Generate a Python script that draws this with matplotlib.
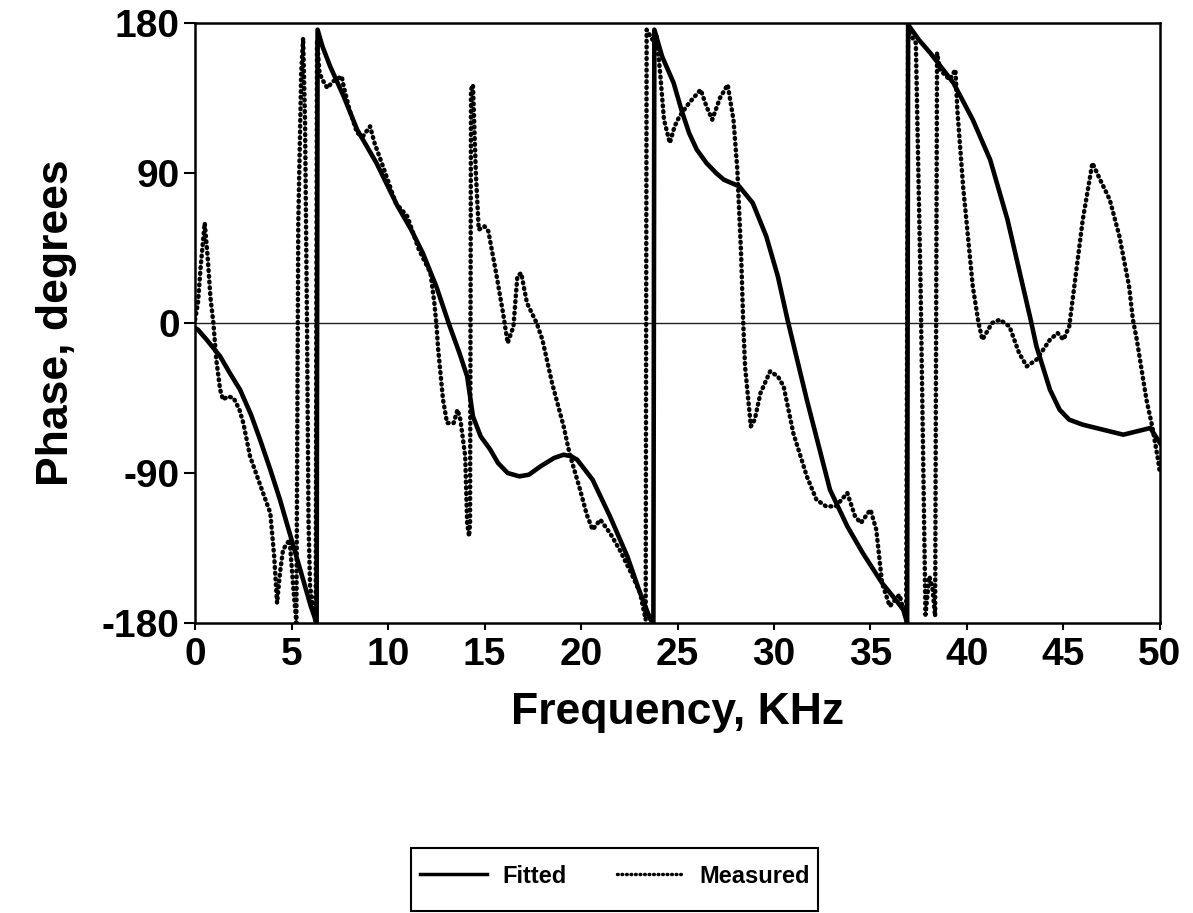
import numpy as np
import matplotlib
matplotlib.use("Agg")
import matplotlib.pyplot as plt
from matplotlib.patches import Rectangle

plt.rcParams['font.family'] = ['Liberation Sans', 'DejaVu Sans']
plt.rcParams['font.weight'] = 'bold'
plt.rcParams['axes.unicode_minus'] = False

# fitted model phase (degrees) vs frequency (kHz)
fit_freq = [0, 0.15, 0.6, 1.3, 1.8, 2.33, 2.9, 3.37, 3.9, 4.4, 4.9, 5.5, 6.0, 6.3,
            6.35, 6.6, 7.0, 7.7, 8.4, 9.4, 10.5, 11.2, 11.8, 12.5, 13.2, 13.7, 14.1,
            14.4, 14.8, 15.3, 15.7, 16.2, 16.8, 17.3, 17.9, 18.6, 19.1, 19.5, 19.8,
            20.2, 20.6, 21.5, 22.4, 23.0, 23.6, 23.75,
            23.8, 24.2, 24.8, 25.2, 25.6, 26.0, 26.5, 27.0, 27.4, 28.2, 28.9, 29.6,
            30.2, 30.7, 31.7, 32.9, 33.8, 34.6, 35.6, 36.3, 36.7, 36.9,
            36.95, 37.5, 38.1, 39.3, 40.3, 41.2, 42.1, 43.3, 43.6, 44.3, 44.8, 45.3,
            46.0, 46.7, 48.1, 49.5, 50]
fit_phase = [-3, -4, -10, -20, -30, -40, -55, -70, -88, -106, -126, -150, -170, -180,
             176, 166, 154, 136, 116, 96, 70, 56, 42, 22, -2, -18, -32,
             -56, -68, -76, -84, -90, -92, -91, -86, -81, -79, -80, -82,
             -88, -94, -116, -140, -160, -178, -180,
             176, 160, 144, 128, 114, 104, 96, 90, 86, 82, 72, 52,
             28, 2, -46, -100, -122, -138, -156, -166, -172, -180,
             179, 170, 162, 144, 122, 98, 62, 2, -14, -40, -52, -58,
             -61, -63, -67, -63, -72]

# measured phase
meas_freq = [0, 0.15, 0.3, 0.5, 0.65, 0.8, 0.95, 1.1, 1.3, 1.45, 1.7, 2.0, 2.3, 2.5,
             2.85, 3.4, 3.9, 4.1, 4.25, 4.4, 4.56, 4.9, 5.1, 5.25,
             5.35, 5.5, 5.6, 5.7, 5.8, 5.88, 5.96, 6.1, 6.25,
             6.32, 6.45, 6.6, 6.85, 7.15, 7.6, 7.7, 8.0, 8.4, 8.7, 9.07, 9.3, 9.8,
             10.4, 11.0, 11.6, 12.2, 12.4, 12.5, 12.6, 12.85, 13.06, 13.4, 13.6, 13.75,
             14.0, 14.1, 14.2, 14.25,
             14.3, 14.4, 14.55, 14.7, 15.0, 15.2, 15.6, 15.96, 16.2, 16.5, 16.7, 16.9,
             17.2, 17.7, 18.0, 18.5, 19.1, 19.4, 19.95, 20.3, 20.6, 21.0, 21.5, 22.0,
             22.6, 23.06, 23.35,
             23.4, 23.7, 23.9, 24.1, 24.3, 24.6, 24.85, 25.1, 25.6, 26.2, 26.5, 26.8,
             27.2, 27.6, 27.9, 28.1, 28.3, 28.4, 28.5, 28.8, 29.0, 29.3, 29.8, 30.2,
             30.5, 31.0, 31.7, 32.2, 32.7, 33.2, 33.8, 34.2, 34.5, 35.0, 35.3, 35.6,
             36.0, 36.5, 36.85,
             36.95, 37.35, 37.6, 37.85, 38.05, 38.2, 38.35,
             38.45, 38.6, 39.1, 39.4, 39.5, 39.8, 40.3, 40.6, 40.8, 41.3, 41.7, 42.2,
             42.7, 43.1, 43.6, 44.3, 44.7, 45.0, 45.3, 46.0, 46.5, 46.9, 47.4, 47.9,
             48.4, 48.6, 48.8, 49.3, 49.6, 49.9, 50]
meas_phase = [2, 12, 35, 60, 40, 15, 0, -22, -40, -46, -44, -45, -52, -60,
              -80, -98, -114, -140, -168, -150, -136, -130, -160, -180,
              60, 150, 171, 120, 0, -120, -158, -170, -180,
              170, 150, 146, 141, 145, 148, 142, 128, 114, 112, 118, 108, 92,
              72, 64, 44, 30, 12, 0, -16, -46, -60, -60, -52, -58,
              -80, -120, -128, -120,
              140, 143, 90, 56, 58, 55, 30, 6, -12, -2, 28, 30,
              12, 0, -10, -36, -62, -78, -100, -115, -124, -118, -126, -136,
              -150, -162, -178,
              176, 170, 174, 150, 122, 108, 118, 124, 132, 140, 130, 122,
              135, 143, 122, 92, 40, 2, -26, -62, -58, -42, -29, -32,
              -38, -66, -92, -106, -110, -110, -102, -116, -120, -112, -124, -156,
              -170, -163, -178,
              175, 168, 20, -175, -152, -158, -176,
              162, 152, 146, 152, 128, 82, 22, 0, -10, 0, 2, -2,
              -18, -26, -22, -10, -6, -10, -2, 62, 96, 86, 74, 52,
              22, 2, -10, -46, -62, -82, -90]

x_ticks = [0, 5, 10, 15, 20, 25, 30, 35, 40, 45, 50]
y_ticks = [-180, -90, 0, 90, 180]

fig = plt.figure(figsize=(11.93, 9.13), dpi=100)
ax = fig.add_axes([0.1635, 0.3176, 0.8088, 0.6572])

ax.axhline(0, color='#222222', lw=1.0, zorder=1)
ax.plot(fit_freq, fit_phase, color='black', lw=3.3, solid_joinstyle='round',
        label='Fitted', zorder=3)
ax.plot(meas_freq, meas_phase, color='black', lw=3.2, ls=(0, (0.2, 1.1)),
        dash_capstyle='round', label='Measured', zorder=2)

ax.set_xlim(0, 50)
ax.set_ylim(-180, 180)
ax.set_xticks(x_ticks)
ax.set_yticks(y_ticks)
ax.tick_params(axis='both', labelsize=28, width=1.5, direction='out')
ax.tick_params(axis='y', length=8, pad=3)
ax.tick_params(axis='x', length=5, pad=5)
for lbl in ax.get_xticklabels() + ax.get_yticklabels():
    lbl.set_fontweight('bold')
for side in ax.spines.values():
    side.set_linewidth(1.8)

ax.set_xlabel('Frequency, KHz', fontsize=32, fontweight='bold', labelpad=14)
ax.set_ylabel('Phase, degrees', fontsize=32, fontweight='bold', labelpad=18)

# legend box drawn separately so the padding can be tight at the sides
fig.patches.append(Rectangle((0.3445, 0.0022), 0.3412, 0.069, transform=fig.transFigure,
                             fill=False, edgecolor='black', lw=1.5))
leg = fig.legend(loc='center', bbox_to_anchor=(0.5155, 0.0405), ncol=2,
                 frameon=False, prop={'size': 17, 'weight': 'bold'},
                 handlelength=2.85, columnspacing=2.1, borderpad=0.2,
                 handletextpad=0.65)
for ln in leg.get_lines():
    ln.set_linewidth(2.5)

fig.savefig('out.png', dpi=100)
